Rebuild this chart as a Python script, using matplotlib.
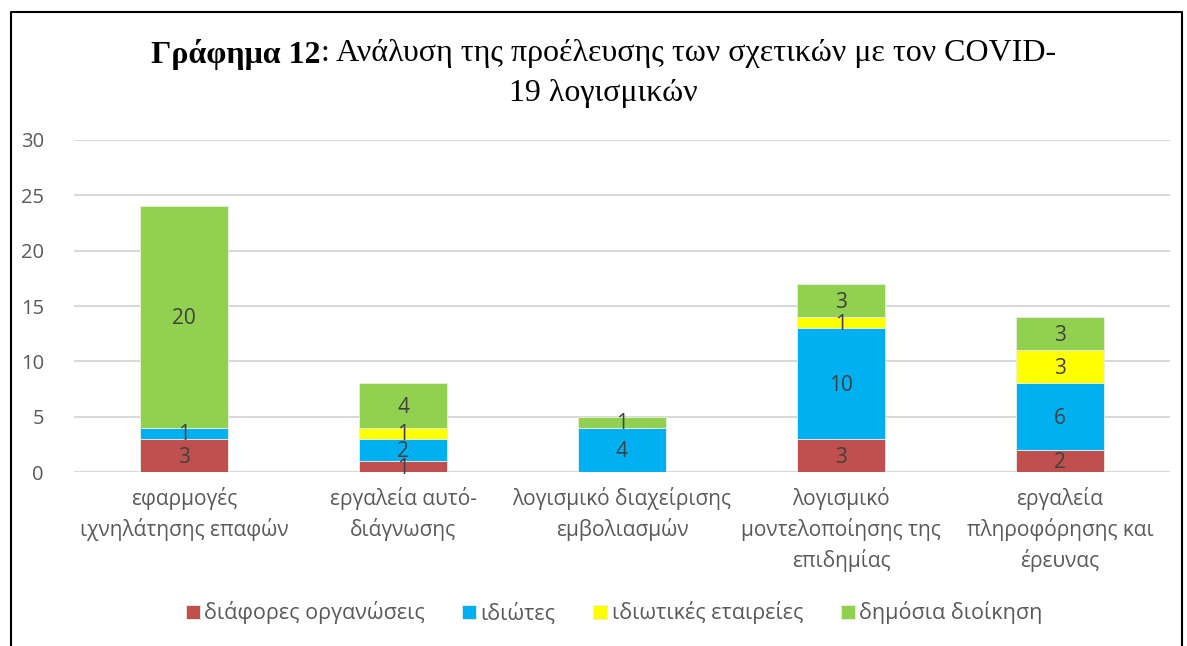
import matplotlib
matplotlib.use("Agg")
import matplotlib.pyplot as plt
import numpy as np
from matplotlib.lines import Line2D

categories = ["εφαρμογές\nιχνηλάτησης επαφών", "εργαλεία αυτό-\nδιάγνωσης",
              "λογισμικό διαχείρισης\nεμβολιασμών", "λογισμικό\nμοντελοποίησης της\nεπιδημίας",
              "εργαλεία\nπληροφόρησης και\nέρευνας"]
series_names = ["διάφορες οργανώσεις", "ιδιώτες", "ιδιωτικές εταιρείες", "δημόσια διοίκηση"]
organisations = [3, 1, 0, 3, 2]
individuals = [1, 2, 4, 10, 6]
companies = [0, 1, 0, 1, 3]
public_admin = [20, 4, 1, 3, 3]
colors = ["#C0504D", "#00B0F0", "#FFFF00", "#92D050"]

W, H, DPI = 1187, 646, 100
fig = plt.figure(figsize=(W / DPI, H / DPI), dpi=DPI)
fig.patch.set_facecolor("white")

font = "Open Sans"
ax = fig.add_axes([74.5 / W, (H - 472) / H, 1095 / W, 332 / H])
x = np.arange(len(categories))
bottom = np.zeros(len(categories))
for vals, name, c in zip([organisations, individuals, companies, public_admin], series_names, colors):
    vals = np.array(vals, dtype=float)
    ax.bar(x, vals, 0.4, bottom=bottom, color=c, label=name, zorder=3,
           edgecolor="#E8F0E0", linewidth=0.6)
    for xi, v, b in zip(x, vals, bottom):
        if v > 0:
            ax.text(xi, b + v / 2 - 0.15, f"{int(v)}", ha="center", va="center",
                    fontsize=15, color="#404040", family=font, zorder=4)
    bottom += vals

ax.set_xlim(-0.5, len(categories) - 0.5)
ax.set_ylim(0, 30)
ax.set_yticks(range(0, 31, 5))
ax.grid(axis="y", color="#D9D9D9", linewidth=1.5, zorder=0)
for s in ax.spines.values():
    s.set_visible(False)
ax.tick_params(axis="both", length=0, colors="#595959")
ax.tick_params(axis="y", pad=22, labelsize=14.5)
ax.tick_params(axis="x", pad=11, labelsize=15)
ax.set_xticks(x)
ax.set_xticklabels(categories, family=font, linespacing=1.45, va="top")
for lab in ax.get_yticklabels():
    lab.set_family(font)

leg = ax.legend(ncol=4, loc="center", bbox_to_anchor=(614 / W, (H - 613) / H),
                bbox_transform=fig.transFigure, frameon=False,
                prop={"family": font, "size": 15.5}, handlelength=0.65, handleheight=0.65,
                handletextpad=0.2, columnspacing=1.75, labelcolor="#595959")

# Title with bold part
renderer = fig.canvas.get_renderer()
tfont = "Liberation Serif"
tsize = 23
y1 = (H - 54) / H
t_b = fig.text(0, y1, "Γράφημα 12", fontsize=tsize, fontweight="bold", family=tfont, va="center")
t_n = fig.text(0, y1, ": Ανάλυση της προέλευσης των σχετικών με τον COVID-", fontsize=tsize,
               family=tfont, va="center")
w1 = t_b.get_window_extent(renderer).width
w2 = t_n.get_window_extent(renderer).width
start = 603.5 - (w1 + w2) / 2
t_b.set_x(start / W)
t_n.set_x((start + w1) / W)
fig.text(603.5 / W, (H - 94) / H, "19 λογισμικών", fontsize=tsize, family=tfont,
         ha="center", va="center")

# outer frame
fx = [10.5 / W, 10.5 / W, 1181.5 / W, 1181.5 / W]
fy = [-0.1, (H - 11.5) / H, (H - 11.5) / H, -0.1]
fig.add_artist(Line2D(fx, fy, color="black", linewidth=1.5, transform=fig.transFigure))

fig.savefig("out.png", dpi=DPI)
